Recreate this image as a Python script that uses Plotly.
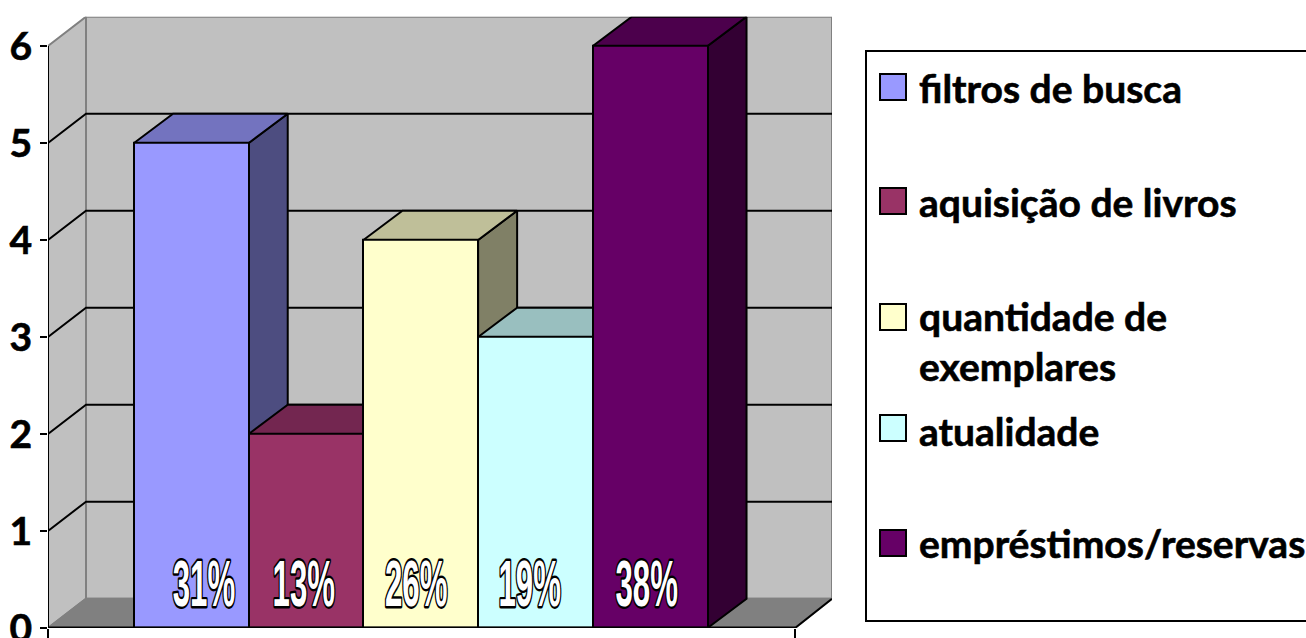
import plotly.graph_objects as go

# ---- data ----
categories = ["filtros de busca", "aquisição de livros", "quantidade de exemplares", "atualidade", "empréstimos/reservas"]
values = [5, 2, 4, 3, 6]
percent_labels = ["31%", "13%", "26%", "19%", "38%"]
y_ticks = [0, 1, 2, 3, 4, 5, 6]

# ---- styles ----
front_colors = ["#9999FF", "#993366", "#FFFFCC", "#CCFFFF", "#660066"]
top_colors = ["#7373BF", "#732650", "#BFBF99", "#99BFBF", "#4C004C"]
side_colors = ["#4D4D80", "#4D1A33", "#808066", "#668080", "#330033"]
WALL, FLOOR, EDGE = "#C0C0C0", "#808080", "#808080"
W, H = 1306, 638
PX_L, PX_R, PX_T, PX_B = 48, 832, 16.7, 628    # plot-area pixels

# ---- 3-D geometry in axis units ----
UX, UY = 114.7, 97.0                           # pixels per unit
X_LEFT = -0.25
X_MAX = X_LEFT + (PX_R - PX_L) / UX
X_RIGHT = X_LEFT + 747 / UX
WALL_DX = 38 / UX
DX, DY = 39 / UX, 29.3 / UY
Y_MAX = 6 + DY
xs = list(range(1, len(values) + 1))
label_shift = [0.11, -0.02, -0.04, -0.05, -0.03]
LABEL_Y = 0.42


def poly(px, py, fill, line="#000000", width=2, axes=("x", "y")):
    return go.Scatter(x=px, y=py, mode="lines", fill="toself", fillcolor=fill,
                      line=dict(color=line, width=width), cliponaxis=False,
                      hoverinfo="skip", showlegend=False, xaxis=axes[0], yaxis=axes[1])


def seg(px, py, color="#000000", width=2, axes=("x", "y")):
    return go.Scatter(x=px, y=py, mode="lines", line=dict(color=color, width=width),
                      cliponaxis=False, hoverinfo="skip", showlegend=False,
                      xaxis=axes[0], yaxis=axes[1])


fig = go.Figure()
# walls and floor
bx, by = X_LEFT + WALL_DX, DY
fig.add_trace(poly([X_LEFT, bx, bx, X_LEFT, X_LEFT], [6, Y_MAX, by, 0, 6], WALL, EDGE))
fig.add_trace(poly([bx, X_MAX, X_MAX, bx, bx], [by, by, Y_MAX, Y_MAX, by], WALL, EDGE))
fig.add_trace(poly([X_LEFT, bx, X_MAX, X_RIGHT, X_LEFT], [0, by, by, 0, 0], FLOOR, EDGE))
# gridlines
for v in y_ticks[1:-1]:
    fig.add_trace(seg([X_LEFT, bx, X_MAX], [v, v + DY, v + DY]))
fig.add_trace(seg([X_RIGHT, X_MAX], [0, DY]))
# bar tops and sides, painted left to right
for x, v, tc, sc in zip(xs, values, top_colors, side_colors):
    l, r = x - 0.5, x + 0.5
    fig.add_trace(poly([r, r + DX, r + DX, r, r], [0, DY, v + DY, v, 0], sc))
    fig.add_trace(poly([l, r, r + DX, l + DX, l], [v, v, v + DY, v + DY, v], tc))
# bar fronts on the overlaying axes
fig.add_trace(go.Bar(x=xs, y=values, width=1, marker=dict(color=front_colors, line=dict(color="#000000", width=2)),
                     hoverinfo="skip", showlegend=False, xaxis="x2", yaxis="y2"))
# front axis lines
fig.add_trace(seg([X_LEFT, X_LEFT], [0, 6], axes=("x2", "y2")))
fig.add_trace(seg([X_LEFT, X_RIGHT], [0, 0], width=3, axes=("x2", "y2")))
# percent labels
fig.add_trace(go.Scatter(x=[x + s for x, s in zip(xs, label_shift)], y=[LABEL_Y] * len(xs), mode="text",
                         text=percent_labels, textposition="middle center", cliponaxis=False,
                         textfont=dict(family="Liberation Sans", size=40, color="#FFFFFF", weight="bold"),
                         hoverinfo="skip", showlegend=False, xaxis="x2", yaxis="y2"))

dom_x = [PX_L / W, PX_R / W]
dom_y = [1 - PX_B / H, 1 - PX_T / H]
fx = lambda p: p / W
fy = lambda p: 1 - p / H

# legend drawn on the paper
LEG_FONT = dict(family="Lato", size=39, color="#000000", weight="bold")
legend_rows = [["filtros de busca"], ["aquisição de livros"], ["quantidade de", "exemplares"], ["atualidade"], ["empréstimos/reservas"]]
legend_text_y = [[88], [202], [316, 366], [431], [543]]
swatch_y = [87, 201, 317, 428, 543]
shapes = [dict(type="rect", xref="paper", yref="paper", x0=fx(866), x1=fx(1330), y0=fy(621), y1=fy(51),
               line=dict(color="#000000", width=2), fillcolor="#FFFFFF", layer="below")]
annotations = []
for rows, tys, sy, col in zip(legend_rows, legend_text_y, swatch_y, front_colors):
    shapes.append(dict(type="rect", xref="paper", yref="paper", x0=fx(880), x1=fx(906), y0=fy(sy + 13), y1=fy(sy - 13),
                       line=dict(color="#000000", width=2), fillcolor=col))
    for t, ty in zip(rows, tys):
        annotations.append(dict(xref="paper", yref="paper", x=fx(917), y=fy(ty), text=t, showarrow=False,
                                xanchor="left", yanchor="middle", font=LEG_FONT, align="left"))

fig.update_layout(
    width=W, height=H, margin=dict(l=0, r=0, t=0, b=0, autoexpand=False), paper_bgcolor="#FFFFFF", plot_bgcolor="rgba(0,0,0,0)",
    showlegend=False, bargap=0, shapes=shapes, annotations=annotations, hovermode=False,
    xaxis=dict(domain=dom_x, range=[X_LEFT, X_MAX], showgrid=False, zeroline=False, showline=False, automargin=False,
               tickmode="array", tickvals=[X_LEFT, X_RIGHT], ticktext=["", ""], ticks="outside", ticklen=9,
               tickwidth=2, tickcolor="#000000"),
    yaxis=dict(domain=dom_y, range=[0, Y_MAX], showgrid=False, zeroline=False, showline=False, automargin=False,
               tickmode="array", tickvals=y_ticks, ticks="outside", ticklen=7, tickwidth=2, tickcolor="#000000",
               ticklabeloverflow="allow",
               tickfont=dict(family="Lato", size=39, color="#000000", weight="bold")),
    xaxis2=dict(overlaying="x", range=[X_LEFT, X_MAX], visible=False),
    yaxis2=dict(overlaying="y", range=[0, Y_MAX], visible=False),
)

post = """
document.body.style.margin='0';document.body.style.overflow='hidden';
var s=document.createElement('style');
s.textContent='.textpoint text{paint-order:stroke;stroke:#000;stroke-width:3px;stroke-linejoin:round;transform-box:fill-box;transform-origin:center;transform:scale(0.78,1.62);}'
 +'.annotation-text,.ytick text{stroke:#000;stroke-width:0.6px;}';
document.head.appendChild(s);
"""
fig.write_html("out.html", post_script=post, config={"displayModeBar": False})
